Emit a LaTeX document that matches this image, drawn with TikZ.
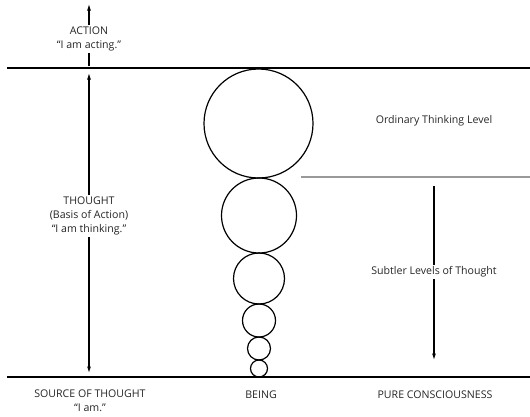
\documentclass[tikz,border=0pt]{standalone}
\usepackage{fontspec}
\setmainfont{Open Sans}
\usetikzlibrary{arrows.meta,positioning}

\begin{document}
\begin{tikzpicture}[x=1pt, y=-1pt, node distance=2pt,
  level line/.style={line width=2.6pt},
  bubble/.style={draw, circle, line width=1.2pt, inner sep=0pt, outer sep=0pt},
  label node/.style={font=\fontsize{10.6}{13.8}\selectfont, align=center, inner sep=2pt, text=black!85},
  cut label/.style={label node, fill=white},
  arrow/.style={line width=1.1pt, -{Latex[length=6.5pt,width=4pt]}}]
\useasboundingbox (0,0) rectangle (530,416);

% levels
\coordinate (topleft)  at (7,68);
\coordinate (topright) at (530,68);
\coordinate (botleft)  at (7,377);
\coordinate (botright) at (530,377);
\coordinate (ordleft)  at (301,177);
\coordinate (ordright) at (530,177);
\draw[level line] (topleft) -- (topright);
\draw[level line] (botleft) -- (botright);
\draw[line width=1.8pt, black!40] (ordleft) -- (ordright);

% bubbles of thought
\node[bubble, minimum size=109pt] (bub1) at (258.5,123.5) {};
\node[bubble, minimum size=75pt]  (bub2) at (259,215.5) {};
\node[bubble, minimum size=51pt]  (bub3) at (259,278.5) {};
\node[bubble, minimum size=33pt]  (bub4) at (259,320.5) {};
\node[bubble, minimum size=23pt]  (bub5) at (259,348.5) {};
\node[bubble, minimum size=17pt]  (bub6) at (259,368.5) {};

% arrows
\coordinate (acttail) at (89,66);
\coordinate (acthead) at (89,4);
\coordinate (thtop)   at (89,73);
\coordinate (thbot)   at (89,373);
\coordinate (subtop)  at (434,186);
\coordinate (subbot)  at (434,360);
\path
(acttail) edge[arrow] (acthead)
(thtop)   edge[arrow, {Latex[length=6.5pt,width=4pt]}-{Latex[length=6.5pt,width=4pt]}] (thbot)
(subtop)  edge[arrow] (subbot)
;

% labels
\node[cut label] (action)  at (89,39)  {ACTION\\“I am acting.”};
\node[cut label] (thought) at (89,216) {THOUGHT\\(Basis of Action)\\“I am thinking.”};
\node[cut label] (subtler) at (434,272) {Subtler Levels of Thought};
\node[label node] (ordinary) at (434,121) {Ordinary Thinking Level};
\node[label node] (source) at (90,401) {SOURCE OF THOUGHT\\“I am.”};
\node[label node] (being)  at (261,395) {BEING};
\node[label node] (pure)   at (435,395) {PURE CONSCIOUSNESS};
\end{tikzpicture}
\end{document}
